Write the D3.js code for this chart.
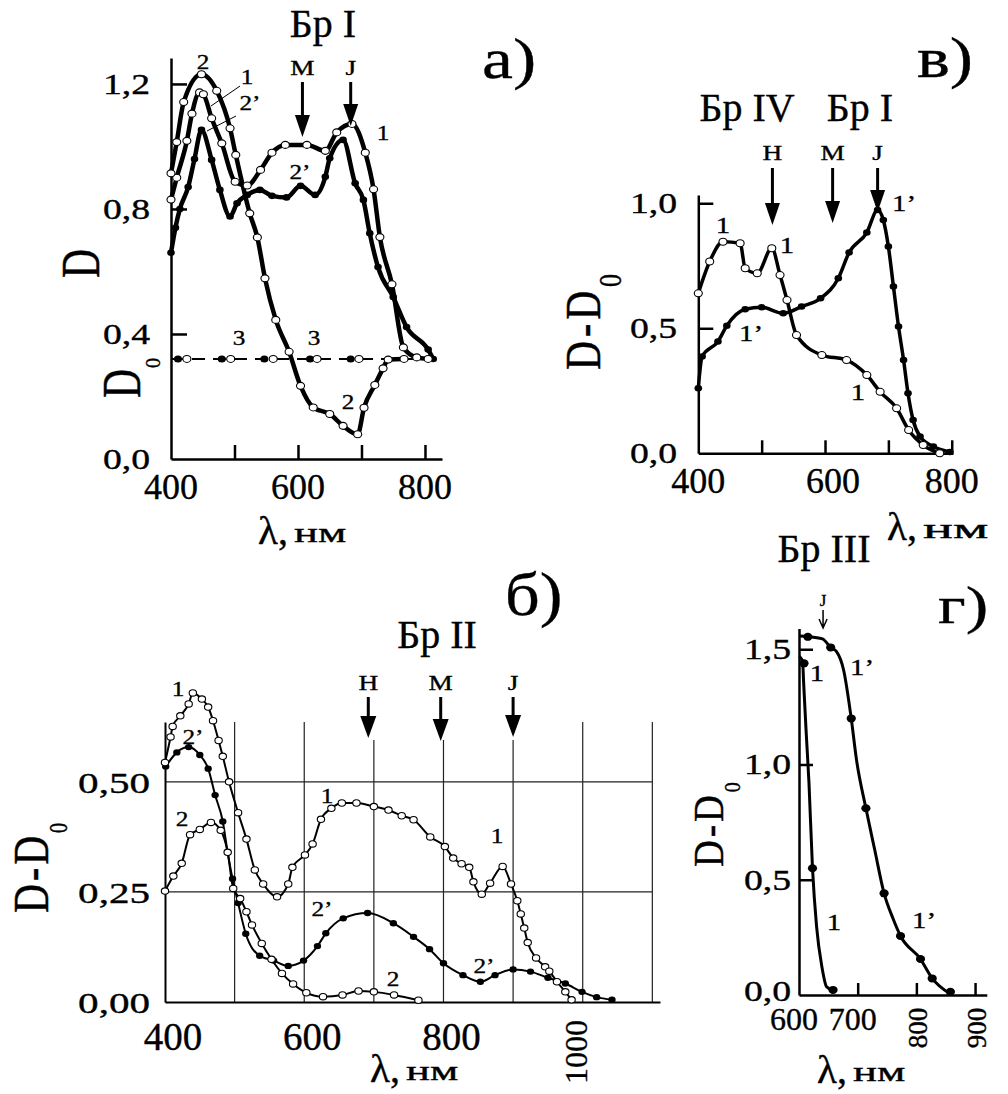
<!DOCTYPE html>
<html>
<head>
<meta charset="utf-8">
<script src="https://cdn.jsdelivr.net/npm/d3@7"></script>
<style>
  body { margin: 0; background: #fff; }
  svg text { font-family: "Liberation Serif", "Times New Roman", "DejaVu Serif", serif; fill: #000; stroke: #000; stroke-width: 0.35px; }
</style>
</head>
<body>
<svg width="1008" height="1094"></svg>
<script>
// ---------- panel а) : D, Бр I ----------
var aNm1 = [400, 409, 425, 433, 445, 451, 464, 480, 501, 520, 541, 559, 580, 614, 643, 661, 685, 706, 719, 729, 748, 766, 787, 805];
var aD1 = [0.83, 0.90, 1.018, 1.105, 1.173, 1.167, 1.09, 1.01, 0.887, 0.875, 0.925, 0.98, 1.005, 1.005, 0.986, 1.045, 1.072, 0.98, 0.863, 0.71, 0.559, 0.357, 0.325, 0.32];
var aNm2 = [400, 409, 420, 448, 472, 493, 502, 524, 536, 548, 565, 586, 604, 624, 650, 671, 694, 704, 721, 734, 742, 767];
var aD2 = [0.914, 1.014, 1.142, 1.231, 1.178, 1.058, 0.973, 0.786, 0.709, 0.578, 0.445, 0.343, 0.234, 0.165, 0.144, 0.106, 0.079, 0.164, 0.237, 0.29, 0.318, 0.32];
var aNm2p = [400, 407, 414, 427, 437, 448, 464, 477, 493, 504, 520, 540, 559, 582, 604, 627, 643, 650, 671, 690, 703, 713, 726, 750, 771, 805, 813];
var aD2p = [0.66, 0.74, 0.80, 0.87, 0.96, 1.053, 0.957, 0.861, 0.776, 0.818, 0.845, 0.861, 0.842, 0.837, 0.874, 0.845, 0.903, 0.962, 1.021, 0.882, 0.829, 0.722, 0.614, 0.518, 0.422, 0.35, 0.32];
var aNm3 = [400, 812], aD3 = [0.32, 0.32];
var aNm3fill = [411, 480, 547, 619, 683], aNm3open = [425, 494, 561, 630, 696];
var aXticks = [400, 500, 600, 700, 800], aXlabels = [400, 600, 800];
var aYticks = [0, 0.4, 0.8, 1.2];
var aArrows = [607, 683], aArrowNames = ["M", "J"];

// ---------- panel в) : D-D0, Бр IV / Бр I ----------
var vNm1 = [400, 418, 439, 466, 474, 493, 516, 529, 540, 555, 595, 634, 666, 687, 713, 732, 755, 781];
var vD1 = [0.64, 0.767, 0.846, 0.84, 0.74, 0.72, 0.82, 0.713, 0.613, 0.473, 0.393, 0.373, 0.313, 0.246, 0.18, 0.093, 0.033, 0.0];
var vNm1p = [400, 406, 431, 445, 474, 500, 534, 563, 593, 621, 638, 666, 683, 692, 700, 708, 716, 724, 731, 739, 750, 771, 797];
var vD1p = [0.26, 0.387, 0.447, 0.51, 0.576, 0.584, 0.56, 0.587, 0.62, 0.70, 0.803, 0.883, 0.973, 0.933, 0.827, 0.667, 0.507, 0.373, 0.24, 0.133, 0.067, 0.027, 0.005];
var vXticks = [400, 500, 600, 700, 800], vXlabels = [400, 600, 800];
var vYticks = [0, 0.5, 1.0];
var vArrows = [517, 612, 683], vArrowNames = ["H", "M", "J"];

// ---------- panel б) : D-D0, Бр II ----------
var bNm1 = [400, 408, 411, 422, 434, 440, 453, 462, 469, 477, 483, 492, 505, 517, 529, 541, 561, 577, 583, 601, 612, 624, 639, 654, 675, 700, 721, 740, 757, 781, 802, 814, 826, 837, 843, 855, 867, 885, 897, 906, 911, 916, 921, 933, 946, 952, 963, 975, 984];
var bD1 = [0.544, 0.602, 0.626, 0.65, 0.677, 0.702, 0.688, 0.67, 0.639, 0.594, 0.558, 0.50, 0.43, 0.37, 0.30, 0.268, 0.239, 0.268, 0.306, 0.334, 0.359, 0.415, 0.44, 0.452, 0.452, 0.444, 0.436, 0.423, 0.414, 0.375, 0.353, 0.327, 0.314, 0.306, 0.273, 0.245, 0.27, 0.308, 0.268, 0.23, 0.20, 0.168, 0.135, 0.10, 0.08, 0.07, 0.046, 0.023, 0.005];
var bNm2p = [401, 417, 434, 450, 462, 472, 483, 490, 497, 505, 516, 536, 556, 577, 599, 619, 631, 656, 691, 728, 757, 780, 800, 828, 853, 874, 900, 925, 950, 975, 999, 1020, 1042];
var bD2p = [0.535, 0.567, 0.579, 0.561, 0.53, 0.47, 0.41, 0.34, 0.28, 0.225, 0.155, 0.105, 0.094, 0.082, 0.094, 0.127, 0.156, 0.19, 0.202, 0.179, 0.148, 0.12, 0.088, 0.061, 0.046, 0.061, 0.074, 0.069, 0.055, 0.042, 0.023, 0.011, 0.005];
var bNm2 = [400, 412, 424, 436, 450, 466, 480, 490, 498, 508, 517, 525, 539, 553, 568, 584, 603, 627, 655, 678, 700, 729, 764];
var bD2 = [0.252, 0.286, 0.315, 0.38, 0.392, 0.408, 0.39, 0.34, 0.258, 0.235, 0.205, 0.175, 0.133, 0.097, 0.065, 0.041, 0.021, 0.012, 0.016, 0.025, 0.023, 0.016, 0.004];
var bGrid = [500, 600, 700, 800, 900, 1000, 1100], bHgrid = [0.25, 0.5];
var bXlabels = [400, 600, 800], bXrot = [1000];
var bYticks = [0, 0.25, 0.5];
var bArrows = [692, 796, 900], bArrowNames = ["H", "M", "J"];

// ---------- panel г) : D-D0, Бр III ----------
var gNm1 = [600, 606, 608, 612, 617, 623, 630, 639, 647, 658];
var gD1 = [1.47, 1.45, 1.35, 1.15, 0.92, 0.55, 0.296, 0.123, 0.036, 0.02];
var gDotNm1 = [608.5, 623, 658], gDotD1 = [1.439, 0.55, 0.022];
var gNm1p = [600, 615, 640, 654, 664, 676, 689, 698, 714, 729, 745, 760, 773, 807, 827, 857];
var gD1p = [1.557, 1.555, 1.545, 1.508, 1.49, 1.41, 1.2, 1.02, 0.81, 0.63, 0.441, 0.333, 0.256, 0.156, 0.072, 0.006];
var gDotNm1p = [615, 654, 689, 714, 745, 773, 807, 827, 858];
var gDotD1p = [1.554, 1.508, 1.2, 0.81, 0.441, 0.256, 0.156, 0.072, 0.014];
var gXticks = [700, 800, 900], gXlabels = [600, 700], gXrot = [800, 900];
var gYticks = [0, 0.5, 1.0, 1.5];

var svg = d3.select("svg");
var comma = function(f) { return function(v) { return d3.format(f)(v).replace(".", ","); }; };

// text with optional horizontal stretch and rotation
function txt(g, x, y, s, size, o) {
	o = o || {};
	var t = "translate(" + x + "," + y + ") scale(" + (o.sx || 1) + ",1)" + (o.rot ? " rotate(-90)" : "");
	return g.append("text")
		.attr("transform", t)
		.attr("text-anchor", o.anchor || "start")
		.style("font-size", size + "px")
		.text(s);
}

// rotated axis title with subscript 0
function dlabel(g, x, y, main, size, sx, ls, sub, dy) {
	var t = g.append("text")
		.attr("transform", "translate(" + x + "," + y + ") scale(" + sx + ",1) rotate(-90)")
		.style("font-size", size + "px");
	t.append("tspan").attr("letter-spacing", ls).text(main);
	if (sub) t.append("tspan").attr("dy", dy).style("font-size", sub + "px").text("0");
}

function lam(g, x, y, sx) {
	var t = g.append("text").attr("x", x).attr("y", y);
	t.append("tspan").style("font-size", "41px").text("λ");
	t.append("tspan").style("font-size", "40px").text(",");
	txt(g, x + 36, y - 2, "нм", 28, {sx: sx});
}

function curve(g, xs, ys, nm, val, w) {
	var line = d3.line()
		.x(function(d, i) { return xs(nm[i]); })
		.y(function(d, i) { return ys(val[i]); })
		.curve(d3.curveMonotoneX);
	g.append("path")
		.attr("d", line(nm))
		.attr("fill", "none")
		.attr("stroke", "#000")
		.attr("stroke-width", w)
		.attr("stroke-linejoin", "round");
}

function dots(g, xs, ys, nm, val, r, open) {
	g.append("g").selectAll("ellipse")
		.data(nm)
		.enter().append("ellipse")
			.attr("cx", function(d) { return xs(d); })
			.attr("cy", function(d, i) { return ys(val[i]); })
			.attr("rx", r * 1.15)
			.attr("ry", r)
			.attr("fill", open ? "#fff" : "#000")
			.attr("stroke", "#000")
			.attr("stroke-width", open ? 1.1 : 0);
}

function arrow(g, x, y0, y1, hw, hh, sw) {
	g.append("line").attr("x1", x).attr("x2", x).attr("y1", y0).attr("y2", y1 - hh + 2)
		.attr("stroke", "#000").attr("stroke-width", sw);
	g.append("path")
		.attr("d", "M" + (x - hw / 2) + "," + (y1 - hh) + "L" + (x + hw / 2) + "," + (y1 - hh) + "L" + x + "," + y1 + "Z")
		.attr("fill", "#000");
}

function styleAxis(sel, w) {
	sel.selectAll("path, line").attr("stroke", "#000").attr("stroke-width", w);
	sel.selectAll("text").remove();
}

// ================= а) =================
var xa = d3.scaleLinear().domain([400, 826.8]).range([171, 442]);
var ya = d3.scaleLinear().domain([0, 1.283]).range([459, 58]);
var gA = svg.append("g");

gA.append("g").attr("transform", "translate(0,459)")
	.call(d3.axisBottom(xa).tickValues(aXticks.slice(1)).tickSizeInner(-14).tickSizeOuter(0))
	.call(styleAxis, 2.5);
gA.append("g").attr("transform", "translate(171,0)")
	.call(d3.axisLeft(ya).tickValues(aYticks.slice(1)).tickSizeInner(-16).tickSizeOuter(0))
	.call(styleAxis, 2.5);

aYticks.forEach(function(v) { txt(gA, 150, ya(v) + 10, comma(".1f")(v), 29, {sx: 1.3, anchor: "end"}); });
aXlabels.forEach(function(v) { txt(gA, xa(v), 499, v, 36, {anchor: "middle"}); });

//dashed baseline D0 (curve 3)
gA.append("path")
	.attr("d", d3.line().x(function(d, i) { return xa(aNm3[i]); }).y(function(d, i) { return ya(aD3[i]); })(aNm3))
	.attr("stroke", "#000").attr("stroke-width", 2).attr("stroke-dasharray", "13,8").attr("fill", "none");
dots(gA, xa, ya, aNm3fill, aNm3fill.map(function() { return aD3[0]; }), 3.5, false);
dots(gA, xa, ya, aNm3open, aNm3open.map(function() { return aD3[0]; }), 3.5, true);

curve(gA, xa, ya, aNm2p, aD2p, 4.5);
curve(gA, xa, ya, aNm1, aD1, 4.5);
curve(gA, xa, ya, aNm2, aD2, 4.5);
dots(gA, xa, ya, aNm2p, aD2p, 3.3, false);
dots(gA, xa, ya, aNm1, aD1, 3.5, true);
dots(gA, xa, ya, aNm2, aD2, 3.5, true);

//leader lines for the left-peak labels
gA.append("line").attr("x1", 240).attr("y1", 86).attr("x2", 211).attr("y2", 106).attr("stroke", "#000").attr("stroke-width", 1);
gA.append("line").attr("x1", 236).attr("y1", 116).attr("x2", 207).attr("y2", 131).attr("stroke", "#000").attr("stroke-width", 1);

[["2", 203, 69], ["1", 247, 84], ["2’", 250, 110], ["1", 383, 140], ["2’", 300, 179], ["3", 239, 345], ["3", 314, 345], ["2", 348, 409]]
	.forEach(function(l) { txt(gA, l[1], l[2], l[0], 21, {sx: 1.2, anchor: "middle"}); });

aArrows.forEach(function(nm, i) {
	arrow(gA, xa(nm), 82, i ? 126 : 137, 15, 22, 3);
	txt(gA, xa(nm), 75, aArrowNames[i], 21, {sx: 1.3, anchor: "middle"});
});
txt(gA, 323, 37, "Бр I", 40, {anchor: "middle"});
txt(gA, 482, 78, "а)", 58, {sx: 1.2});

dlabel(gA, 99, 278, "D", 40, 1.38, 0);
txt(gA, 140, 398, "D", 40, {sx: 1.38, rot: true});
txt(gA, 160, 368, "0", 20, {sx: 1.0, rot: true});
lam(gA, 258, 544, 1.6);

// ================= в) =================
var xv = d3.scaleLinear().domain([400, 802]).range([698.3, 953]);
var yv = d3.scaleLinear().domain([0, 1.033]).range([453.3, 195]);
var gV = svg.append("g");

gV.append("g").attr("transform", "translate(0,453.3)")
	.call(d3.axisBottom(xv).tickValues(vXticks.slice(1)).tickSizeInner(-13).tickSizeOuter(0))
	.call(styleAxis, 2.5);
gV.append("g").attr("transform", "translate(698.3,0)")
	.call(d3.axisLeft(yv).tickValues(vYticks.slice(1)).tickSizeInner(-15).tickSizeOuter(0))
	.call(styleAxis, 2.5);

vYticks.forEach(function(v) { txt(gV, 677, yv(v) + 10, comma(".1f")(v), 29, {sx: 1.3, anchor: "end"}); });
vXlabels.forEach(function(v) { txt(gV, xv(v) + (v === 600 ? 8 : 0), 493, v, 36, {anchor: "middle"}); });

curve(gV, xv, yv, vNm1p, vD1p, 3.5);
curve(gV, xv, yv, vNm1, vD1, 3.5);
dots(gV, xv, yv, vNm1p, vD1p, 3.3, false);
dots(gV, xv, yv, vNm1, vD1, 3.5, true);

[["1", 723, 233], ["1", 787, 253], ["1’", 904, 211], ["1’", 751, 341], ["1", 858, 400]]
	.forEach(function(l) { txt(gV, l[1], l[2], l[0], 24, {sx: 1.2, anchor: "middle"}); });

vArrows.forEach(function(nm, i) {
	arrow(gV, xv(nm), 168, [225, 223, 212][i], 15, 22, 3);
	txt(gV, xv(nm), 160, vArrowNames[i], 21, {sx: 1.3, anchor: "middle"});
});
txt(gV, 747, 121, "Бр IV", 40, {anchor: "middle"});
txt(gV, 860, 121, "Бр I", 40, {anchor: "middle"});
txt(gV, 917, 77, "в)", 58, {sx: 1.2});

dlabel(gV, 600, 370, "D-D", 40, 1.25, 4, 26, 17);
lam(gV, 887, 540, 2.0);

// ================= б) =================
var xb = d3.scaleLinear().domain([400, 1111]).range([165, 660]);
var yb = d3.scaleLinear().domain([0, 0.636]).range([1002, 722]);
var gB = svg.append("g");

//grid
gB.append("g").selectAll("line")
	.data(bGrid)
	.enter().append("line")
		.attr("x1", function(d) { return xb(d); })
		.attr("x2", function(d) { return xb(d); })
		.attr("y1", function(d) { return bArrows.some(function(a) { return Math.abs(a - d) < 10; }) ? 740 : 722; })
		.attr("y2", yb(0))
		.attr("stroke", "#222").attr("stroke-width", 1.2);
gB.append("g").selectAll("line")
	.data(bHgrid)
	.enter().append("line")
		.attr("x1", xb(400)).attr("x2", xb(1100))
		.attr("y1", function(d) { return yb(d); })
		.attr("y2", function(d) { return yb(d); })
		.attr("stroke", "#222").attr("stroke-width", 1.2);

gB.append("g").attr("transform", "translate(0,1002)")
	.call(d3.axisBottom(xb).tickValues([]).tickSizeOuter(0))
	.call(styleAxis, 2);
gB.append("g").attr("transform", "translate(165,0)")
	.call(d3.axisLeft(yb).tickValues([]).tickSizeOuter(0))
	.call(styleAxis, 2);

bYticks.forEach(function(v) { txt(gB, 150, yb(v) + 11, comma(".2f")(v), 30, {sx: 1.37, anchor: "end"}); });
bXlabels.forEach(function(v) { txt(gB, xb(v) + 8, 1050, v, 39, {anchor: "middle"}); });
bXrot.forEach(function(v) { txt(gB, xb(v) + 4, 1052, v, 32, {anchor: "middle", rot: true}); });

curve(gB, xb, yb, bNm1, bD1, 2);
curve(gB, xb, yb, bNm2p, bD2p, 2);
curve(gB, xb, yb, bNm2, bD2, 2);
dots(gB, xb, yb, bNm2p, bD2p, 3.2, false);
dots(gB, xb, yb, bNm1, bD1, 3.2, true);
dots(gB, xb, yb, bNm2, bD2, 3.2, true);

[["1", 178, 696], ["2’", 193, 744], ["2", 182, 826], ["1", 327, 803], ["2’", 322, 916], ["2", 393, 986], ["1", 497, 843], ["2’", 484, 973]]
	.forEach(function(l) { txt(gB, l[1], l[2], l[0], 22, {sx: 1.15, anchor: "middle"}); });

bArrows.forEach(function(nm, i) {
	arrow(gB, xb(nm), 697, [738, 741, 737][i], 16, 22, 3);
	txt(gB, xb(nm), 690, bArrowNames[i], 21, {sx: 1.3, anchor: "middle"});
});
txt(gB, 437, 648, "Бр II", 40, {anchor: "middle"});
txt(gB, 505, 615, "б)", 62, {sx: 1.1});

dlabel(gB, 48, 913, "D-D", 40, 1.29, 3, 20, 15);
lam(gB, 370, 1082, 1.6);

// ================= г) =================
var xg = d3.scaleLinear().domain([600, 920]).range([799, 986.8]);
var yg = d3.scaleLinear().domain([0, 1.59]).range([995, 628.5]);
var gG = svg.append("g");

gG.append("g").attr("transform", "translate(0,995)")
	.call(d3.axisBottom(xg).tickValues(gXticks).tickSizeInner(-12).tickSizeOuter(0))
	.call(styleAxis, 2.5);
gG.append("g").attr("transform", "translate(799,0)")
	.call(d3.axisLeft(yg).tickValues(gYticks.slice(1)).tickSizeInner(-14).tickSizeOuter(0))
	.call(styleAxis, 2.5);

gYticks.forEach(function(v) { txt(gG, 791, yg(v) + (v ? 10 : 6), comma(".1f")(v), 29, {sx: 1.3, anchor: "end"}); });
gXlabels.forEach(function(v) { txt(gG, xg(v) - 5, 1030, v, 32, {anchor: "middle"}); });
gXrot.forEach(function(v) { txt(gG, xg(v) + 11, 1028, v, 27, {anchor: "middle", rot: true}); });

curve(gG, xg, yg, gNm1, gD1, 3);
curve(gG, xg, yg, gNm1p, gD1p, 3);
dots(gG, xg, yg, gDotNm1, gDotD1, 4, false);
dots(gG, xg, yg, gDotNm1p, gDotD1p, 4, false);

[["1", 817, 681], ["1’", 862, 675], ["1", 834, 930], ["1’", 924, 928]]
	.forEach(function(l) { txt(gG, l[1], l[2], l[0], 24, {sx: 1.2, anchor: "middle"}); });

//thin J arrow
var jx = xg(641);
gG.append("path")
	.attr("d", "M" + jx + ",610V628M" + (jx - 4) + ",619L" + jx + ",628L" + (jx + 4) + ",619")
	.attr("fill", "none").attr("stroke", "#000").attr("stroke-width", 1.5);
txt(gG, jx, 606, "J", 17, {anchor: "middle"});
txt(gG, 824, 562, "Бр III", 40, {anchor: "middle"});
txt(gG, 938, 623, "г)", 52, {sx: 1.3});

dlabel(gG, 723, 867, "D-D", 37, 1.15, 3, 20, 15);
lam(gG, 817, 1083, 1.6);
</script>
</body>
</html>
